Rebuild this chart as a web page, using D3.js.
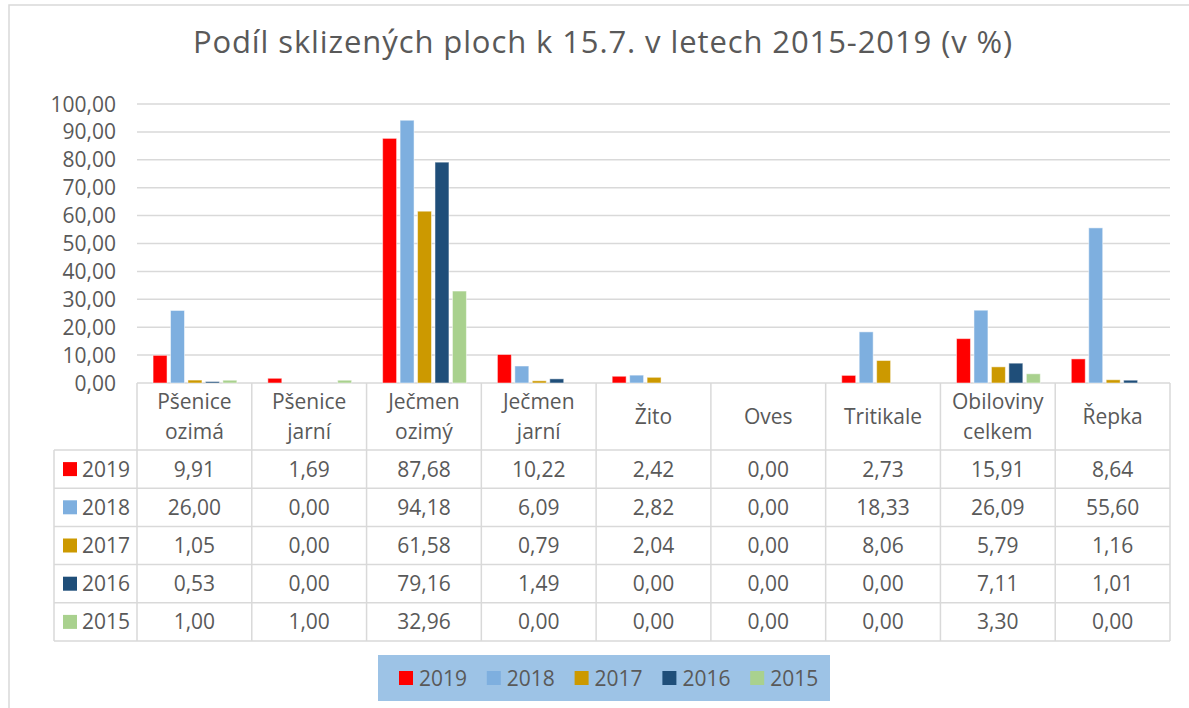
<html>
<script src="https://d3js.org/d3.v7.min.js"></script>
<style>
body { margin: 0; background: white; }
text { font-family: "Open Sans", sans-serif; fill: #595959; }
</style>
<body>
<svg width=1189 height=708></svg>
<script>

// data
var categories = [["Pšenice", "ozimá"], ["Pšenice", "jarní"], ["Ječmen", "ozimý"], ["Ječmen", "jarní"],
  ["Žito"], ["Oves"], ["Tritikale"], ["Obiloviny", "celkem"], ["Řepka"]];
var years = ["2019", "2018", "2017", "2016", "2015"];
var colors = ["#ff0000", "#7eafdf", "#cc9900", "#1f4e79", "#a9d18e"];
var v2019 = [9.91, 1.69, 87.68, 10.22, 2.42, 0.00, 2.73, 15.91, 8.64];
var v2018 = [26.00, 0.00, 94.18, 6.09, 2.82, 0.00, 18.33, 26.09, 55.60];
var v2017 = [1.05, 0.00, 61.58, 0.79, 2.04, 0.00, 8.06, 5.79, 1.16];
var v2016 = [0.53, 0.00, 79.16, 1.49, 0.00, 0.00, 0.00, 7.11, 1.01];
var v2015 = [1.00, 1.00, 32.96, 0.00, 0.00, 0.00, 0.00, 3.30, 0.00];
var yTicks = [0, 10, 20, 30, 40, 50, 60, 70, 80, 90, 100];

var series = [v2019, v2018, v2017, v2016, v2015];
var catNames = categories.map(function(c) { return c.join(" "); });
var fmt = function(v) { return d3.format(".2f")(v).replace(".", ","); };

var svg = d3.select('svg');
var grid = "#d9d9d9";
var fs = "21px";

// chart frame
svg.append("rect")
  .attr("x", 9).attr("y", 5).attr("width", 1200).attr("height", 720)
  .attr("fill", "white").attr("stroke", grid).attr("stroke-width", 1.5);

svg.append("text")
  .attr("x", 603).attr("y", 53)
  .attr("text-anchor", "middle")
  .style("font-size", "31px")
  .style("letter-spacing", "0.9px")
  .text("Podíl sklizených ploch k 15.7. v letech 2015-2019 (v %)");

var x0 = d3.scaleBand().domain(catNames).range([137, 1170]);
var bw = x0.bandwidth();
var x1 = d3.scaleBand().domain(years).range([bw * 0.14, bw * 0.87]).paddingInner(0.2);
var y = d3.scaleLinear().domain([0, 100]).range([383, 104]);
var color = d3.scaleOrdinal().domain(years).range(colors);

// gridlines + y labels
svg.append("g").selectAll("line")
  .data(yTicks)
  .enter().append("line")
  .attr("x1", 137).attr("x2", 1170)
  .attr("y1", function(d) { return y(d); })
  .attr("y2", function(d) { return y(d); })
  .attr("stroke", grid).attr("stroke-width", 1.5);

svg.append("g").selectAll("text")
  .data(yTicks)
  .enter().append("text")
  .attr("x", 116)
  .attr("y", function(d) { return y(d); })
  .attr("dy", "0.36em")
  .attr("text-anchor", "end")
  .style("font-size", fs)
  .text(function(d) { return fmt(d); });

// bars
var groups = svg.append("g").selectAll("g")
  .data(catNames)
  .enter().append("g")
  .attr("transform", function(d) { return "translate(" + x0(d) + ",0)"; });

groups.selectAll("rect")
  .data(function(d, i) { return years.map(function(yr, j) { return {year: yr, value: series[j][i]}; }); })
  .enter().append("rect")
  .attr("x", function(d) { return x1(d.year); })
  .attr("width", x1.bandwidth())
  .attr("y", function(d) { return y(d.value); })
  .attr("height", function(d) { return y(0) - y(d.value); })
  .attr("fill", function(d) { return color(d.year); })
  .attr("stroke", "white").attr("stroke-opacity", 0.5).attr("stroke-width", 1);

// data table
var rowTop = 450, rowH = 38.2, left = 54, right = 1170;
var tbl = svg.append("g");

tbl.selectAll(".hline")
  .data(d3.range(years.length + 1))
  .enter().append("line")
  .attr("x1", left).attr("x2", right)
  .attr("y1", function(d) { return rowTop + d * rowH; })
  .attr("y2", function(d) { return rowTop + d * rowH; })
  .attr("stroke", grid).attr("stroke-width", 1.5);

tbl.append("line")
  .attr("x1", left).attr("x2", left)
  .attr("y1", rowTop).attr("y2", rowTop + years.length * rowH)
  .attr("stroke", grid).attr("stroke-width", 1.5);

tbl.selectAll(".vline")
  .data(catNames.concat(["end"]))
  .enter().append("line")
  .attr("x1", function(d, i) { return 137 + i * bw; })
  .attr("x2", function(d, i) { return 137 + i * bw; })
  .attr("y1", y(0)).attr("y2", rowTop + years.length * rowH)
  .attr("stroke", grid).attr("stroke-width", 1.5);

// header labels
categories.forEach(function(lines, i) {
  var cx = x0(catNames[i]) + bw / 2;
  var t = tbl.append("text")
    .attr("text-anchor", "middle")
    .style("font-size", fs);
  if (lines.length == 1) {
    t.attr("x", cx).attr("y", 424).text(lines[0]);
  } else {
    lines.forEach(function(l, k) {
      t.append("tspan").attr("x", cx).attr("y", 409 + k * 30).text(l);
    });
  }
});

// rows
years.forEach(function(yr, j) {
  var cy = rowTop + j * rowH + rowH / 2;
  tbl.append("rect")
    .attr("x", 63).attr("y", cy - 7).attr("width", 14).attr("height", 14)
    .attr("fill", color(yr));
  tbl.append("text")
    .attr("x", 82).attr("y", cy + 7.5)
    .style("font-size", fs)
    .text(yr);
  tbl.selectAll(".c" + yr)
    .data(series[j])
    .enter().append("text")
    .attr("x", function(d, i) { return x0(catNames[i]) + bw / 2; })
    .attr("y", cy + 7.5)
    .attr("text-anchor", "middle")
    .style("font-size", fs)
    .text(function(d) { return fmt(d); });
});

// legend
var lg = svg.append("g");
lg.append("rect")
  .attr("x", 378).attr("y", 655).attr("width", 452).attr("height", 46)
  .attr("fill", "#9dc3e6");
var items = lg.selectAll(".item")
  .data(years)
  .enter().append("g")
  .attr("transform", function(d, i) { return "translate(" + (399 + i * 87.8) + ",0)"; });
items.append("rect")
  .attr("x", 0).attr("y", 671).attr("width", 14).attr("height", 14)
  .attr("fill", function(d) { return color(d); });
items.append("text")
  .attr("x", 20).attr("y", 686)
  .style("font-size", fs)
  .text(function(d) { return d; });

</script>
</body>
</html>
